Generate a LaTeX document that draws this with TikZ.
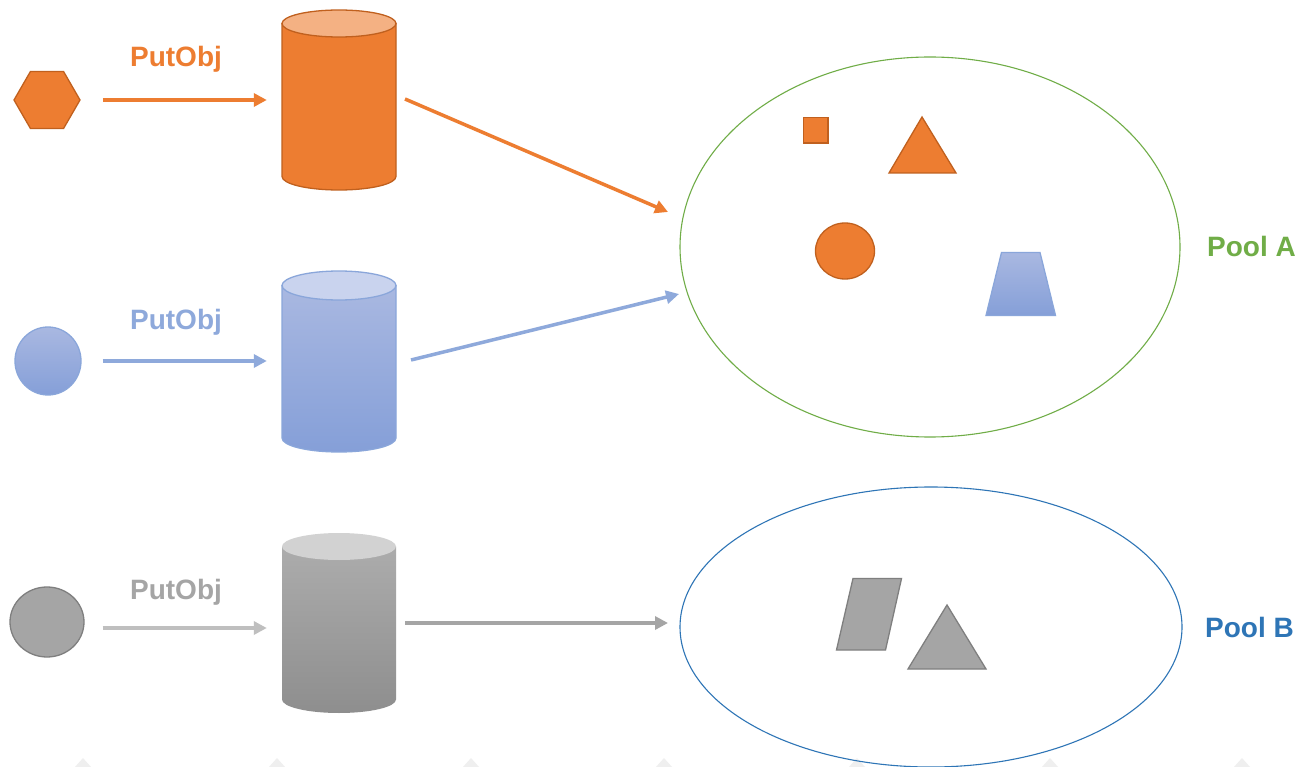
\documentclass[tikz,border=0pt]{standalone}
\usepackage{fontspec}
\setmainfont{Liberation Sans}
\usetikzlibrary{arrows.meta,shapes.geometric}
\definecolor{ofill}{HTML}{ED7D31}
\definecolor{ostroke}{HTML}{C0601E}
\definecolor{otop}{HTML}{F4B183}
\definecolor{btop}{HTML}{A9B8E1}
\definecolor{bbot}{HTML}{859FD8}
\definecolor{bstroke}{HTML}{8AA6DA}
\definecolor{bcap}{HTML}{C9D3EE}
\definecolor{barrow}{HTML}{8EA9DB}
\definecolor{gfill}{HTML}{A5A5A5}
\definecolor{gstroke}{HTML}{7F7F7F}
\definecolor{gtop}{HTML}{ACACAC}
\definecolor{gbot}{HTML}{8E8E8E}
\definecolor{gcap}{HTML}{D2D2D2}
\definecolor{glight}{HTML}{BFBFBF}
\definecolor{poolgreen}{HTML}{70AD47}
\definecolor{poolblue}{HTML}{2E75B6}
\definecolor{wm}{HTML}{EFEFEF}
\tikzset{
  lbl/.style={font=\bfseries\fontsize{28}{30}\selectfont, anchor=base, inner sep=0},
  conn/.style={line width=3.5pt, -{Triangle[length=13pt,width=13pt]}},
  ghost/.style={inner sep=0, minimum width=114pt, minimum height=180pt},
  pool/.style={ellipse, inner sep=0, line width=1.1pt},
  shp/.style={line width=1.3pt}
}
\begin{document}
\begin{tikzpicture}[x=1pt,y=-1pt]
\useasboundingbox (0,0) rectangle (1301,767);
\fill[white] (0,0) rectangle (1301,767);

% faint watermark marks at bottom edge
\foreach \xx in {83,277,471,664,857,1050,1242}
  \fill[wm] (\xx-8,767) -- (\xx,758) -- (\xx+8,767) -- cycle;

% ---------- Row 1 (orange) ----------
\node[regular polygon, regular polygon sides=6, minimum size=66pt, inner sep=0,
      fill=ofill, draw=ostroke, shp] (hex) at (47,100) {};
\node[lbl, text=ofill] (t1) at (176,67) {PutObj};
\path[draw=ostroke, fill=ofill, shp] (282,23.5) -- (282,176.5)
  arc[start angle=180, end angle=360, x radius=57pt, y radius=13.5pt] -- (396,23.5) -- cycle;
\draw[draw=ostroke, fill=otop, shp] (339,23.5) ellipse [x radius=57pt, y radius=13.5pt];
\node[ghost] (cylA) at (339,100) {};
\draw[conn, draw=ofill, shorten <=22pt, shorten >=15pt] (hex.east) -- (cylA.west);

% ---------- Row 2 (blue) ----------
\node[ellipse, inner sep=0, top color=btop, bottom color=bbot,
      draw=bstroke, shp, minimum width=66pt, minimum height=68pt] (circB) at (48,361) {};
\node[lbl, text=barrow] (t2) at (176,330) {PutObj};
\path[draw=bstroke, top color=btop, bottom color=bbot, shp] (282,285.5) -- (282,438)
  arc[start angle=180, end angle=360, x radius=57pt, y radius=14pt] -- (396,285.5) -- cycle;
\draw[draw=bstroke, fill=bcap, shp] (339,285.5) ellipse [x radius=57pt, y radius=14.5pt];
\node[ghost, minimum height=181pt] (cylB) at (339,361.5) {};
\draw[conn, draw=barrow, shorten <=21pt, shorten >=15pt] (circB.east) -- (cylB.west |- circB.east);

% ---------- Row 3 (grey) ----------
\node[ellipse, inner sep=0, minimum width=74pt, minimum height=70pt,
      fill=gfill, draw=gstroke, shp] (circG) at (47,622) {};
\node[lbl, text=gfill] (t3) at (176,599) {PutObj};
\path[draw=none, top color=gtop, bottom color=gbot] (282,546.5) -- (282,699.5)
  arc[start angle=180, end angle=360, x radius=57pt, y radius=13.5pt] -- (396,546.5) -- cycle;
\fill[gcap] (339,546.5) ellipse [x radius=57pt, y radius=13.5pt];
\node[ghost] (cylC) at (339,623) {};
\draw[conn, draw=glight, shorten <=18pt, shorten >=15pt]
  ([yshift=-6pt]circG.east) -- ([yshift=-5pt]cylC.west);

% ---------- Pools ----------
\node[pool, draw=poolgreen, minimum width=500pt, minimum height=380pt] (poolA) at (930,247) {};
\node[pool, draw=poolblue, minimum width=502pt, minimum height=280pt] (poolB) at (931,627) {};
\node[lbl, text=poolgreen, anchor=base west] (la) at (1207,257) {Pool A};
\node[lbl, text=poolblue, anchor=base west] (lb) at (1205,637) {Pool B};

% connectors to pools
\coordinate (a1s) at (405,99);
\coordinate (a1e) at (668,212);
\coordinate (a2s) at (411,360);
\coordinate (a2e) at (679,294);
\coordinate (a3s) at (405,623);
\coordinate (a3e) at (668,623);
\draw[conn, draw=ofill] (a1s) -- (a1e);
\draw[conn, draw=barrow] (a2s) -- (a2e);
\draw[conn, draw=gfill] (a3s) -- (a3e);

% ---------- Objects in Pool A ----------
\draw[fill=ofill, draw=ostroke, shp] (803.5,117.5) rectangle (828,143);
\draw[fill=ofill, draw=ostroke, shp] (922,117) -- (956,173) -- (889,173) -- cycle;
\draw[fill=ofill, draw=ostroke, shp] (845,251) ellipse [x radius=29.5pt, y radius=28pt];
\path[draw=bstroke, top color=btop, bottom color=bbot, shp]
  (1001.5,252.5) -- (1040,252.5) -- (1055.5,315.5) -- (986,315.5) -- cycle;

% ---------- Objects in Pool B ----------
\draw[fill=gfill, draw=gstroke, shp] (853,578.5) -- (901.5,578.5) -- (885.5,650) -- (836.5,650) -- cycle;
\draw[fill=gfill, draw=gstroke, shp] (947,605) -- (986,669) -- (908,669) -- cycle;
\end{tikzpicture}
\end{document}
